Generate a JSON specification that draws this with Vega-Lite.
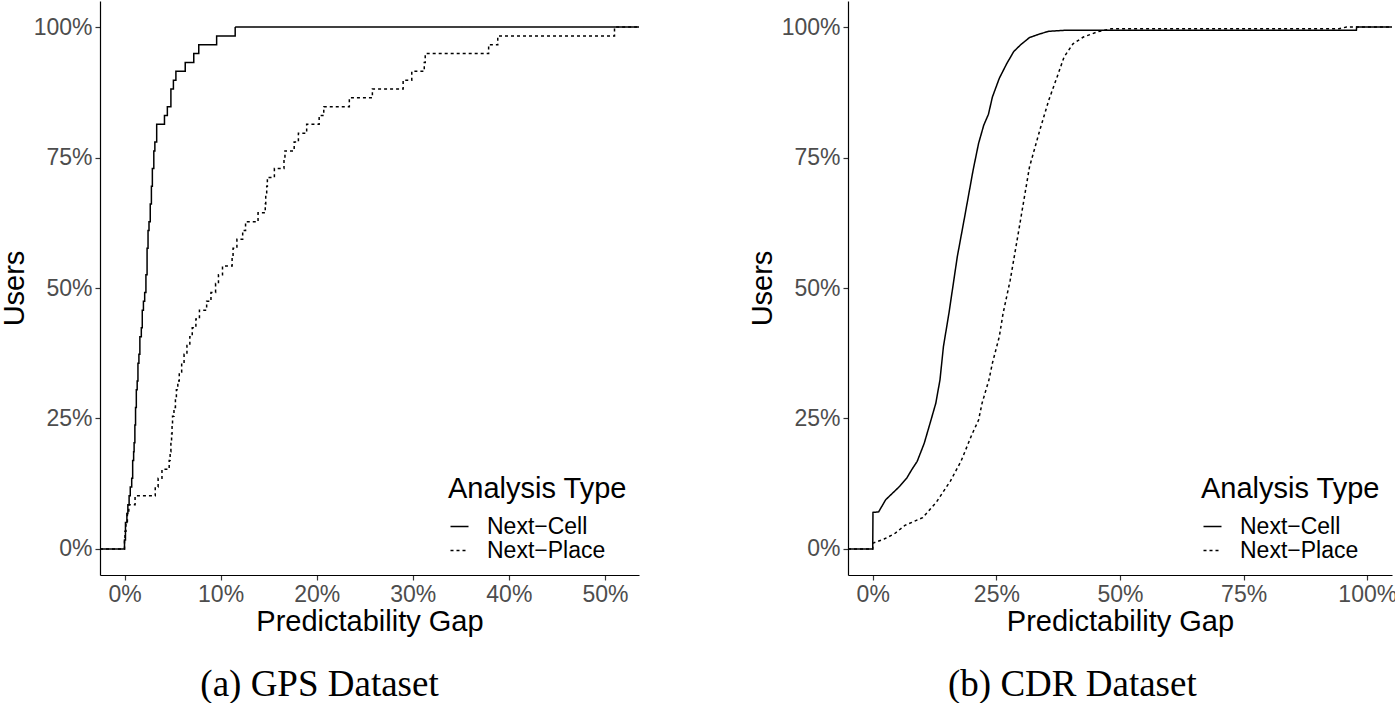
{
  "$schema": "https://vega.github.io/schema/vega-lite/v6.json",
  "padding": {"left": 0, "top": 1, "right": 0, "bottom": 0},
  "autosize": {"type": "pad"},
  "spacing": 109,
  "resolve": {"scale": {"strokeDash": "independent"}, "legend": {"strokeDash": "independent"}},
  "config": {
    "view": {"stroke": null},
    "font": "Liberation Sans",
    "axis": {"grid": false, "domainColor": "black", "domainWidth": 1.2, "tickColor": "#333333", "tickWidth": 1.2, "tickSize": 5, "labelColor": "#4D4D4D", "labelFont": "Liberation Sans", "labelFontSize": 23, "titleFont": "Liberation Sans", "titleFontSize": 29, "titleFontWeight": "normal", "titleColor": "black"},
    "axisX": {"labelPadding": 3, "titlePadding": 1},
    "axisY": {"labelPadding": 3, "titlePadding": 3, "minExtent": 68, "maxExtent": 68},
    "legend": {"orient": "bottom-right", "offset": 12, "titleFont": "Liberation Sans", "titleFontSize": 29, "titleFontWeight": "normal", "titleColor": "black", "titlePadding": 11, "labelFont": "Liberation Sans", "labelFontSize": 23, "labelColor": "black", "symbolType": "stroke", "symbolSize": 324, "symbolStrokeWidth": 1.5, "symbolStrokeColor": "black", "labelOffset": 16, "rowPadding": 0},
    "title": {"font": "Liberation Serif", "fontSize": 37, "fontWeight": "normal", "color": "black", "anchor": "middle", "frame": "bounds", "offset": 31}
  },
  "hconcat": [
    {
      "width": 539,
      "height": 574,
      "title": {"text": "(a) GPS Dataset", "orient": "bottom"},
      "data": {"values": [
        {"gap": -0.0255, "users": 0, "type": "Next−Cell"},
        {"gap": 0.0, "users": 0.0169, "type": "Next−Cell"},
        {"gap": 0.0010, "users": 0.0508, "type": "Next−Cell"},
        {"gap": 0.0025, "users": 0.0678, "type": "Next−Cell"},
        {"gap": 0.0035, "users": 0.0847, "type": "Next−Cell"},
        {"gap": 0.0048, "users": 0.1017, "type": "Next−Cell"},
        {"gap": 0.0060, "users": 0.1186, "type": "Next−Cell"},
        {"gap": 0.0075, "users": 0.1356, "type": "Next−Cell"},
        {"gap": 0.0085, "users": 0.1695, "type": "Next−Cell"},
        {"gap": 0.0095, "users": 0.1864, "type": "Next−Cell"},
        {"gap": 0.0100, "users": 0.2034, "type": "Next−Cell"},
        {"gap": 0.0108, "users": 0.2373, "type": "Next−Cell"},
        {"gap": 0.0115, "users": 0.2712, "type": "Next−Cell"},
        {"gap": 0.0123, "users": 0.3051, "type": "Next−Cell"},
        {"gap": 0.0132, "users": 0.3220, "type": "Next−Cell"},
        {"gap": 0.0140, "users": 0.3559, "type": "Next−Cell"},
        {"gap": 0.0150, "users": 0.3729, "type": "Next−Cell"},
        {"gap": 0.0160, "users": 0.4068, "type": "Next−Cell"},
        {"gap": 0.0175, "users": 0.4237, "type": "Next−Cell"},
        {"gap": 0.0185, "users": 0.4576, "type": "Next−Cell"},
        {"gap": 0.0197, "users": 0.4746, "type": "Next−Cell"},
        {"gap": 0.0210, "users": 0.4915, "type": "Next−Cell"},
        {"gap": 0.0223, "users": 0.5254, "type": "Next−Cell"},
        {"gap": 0.0235, "users": 0.5763, "type": "Next−Cell"},
        {"gap": 0.0245, "users": 0.6102, "type": "Next−Cell"},
        {"gap": 0.0255, "users": 0.6271, "type": "Next−Cell"},
        {"gap": 0.0268, "users": 0.6610, "type": "Next−Cell"},
        {"gap": 0.0280, "users": 0.6949, "type": "Next−Cell"},
        {"gap": 0.0290, "users": 0.7288, "type": "Next−Cell"},
        {"gap": 0.0305, "users": 0.7627, "type": "Next−Cell"},
        {"gap": 0.0316, "users": 0.7797, "type": "Next−Cell"},
        {"gap": 0.0335, "users": 0.8136, "type": "Next−Cell"},
        {"gap": 0.0416, "users": 0.8305, "type": "Next−Cell"},
        {"gap": 0.0446, "users": 0.8475, "type": "Next−Cell"},
        {"gap": 0.0483, "users": 0.8814, "type": "Next−Cell"},
        {"gap": 0.0509, "users": 0.8983, "type": "Next−Cell"},
        {"gap": 0.0535, "users": 0.9153, "type": "Next−Cell"},
        {"gap": 0.0632, "users": 0.9322, "type": "Next−Cell"},
        {"gap": 0.0721, "users": 0.9492, "type": "Next−Cell"},
        {"gap": 0.0773, "users": 0.9661, "type": "Next−Cell"},
        {"gap": 0.0959, "users": 0.9831, "type": "Next−Cell"},
        {"gap": 0.1152, "users": 1.0, "type": "Next−Cell"},
        {"gap": 0.5355, "users": 1.0, "type": "Next−Cell"},
        {"gap": -0.0255, "users": 0, "type": "Next−Place"},
        {"gap": 0.0, "users": 0.0169, "type": "Next−Place"},
        {"gap": 0.0005, "users": 0.0339, "type": "Next−Place"},
        {"gap": 0.0015, "users": 0.0508, "type": "Next−Place"},
        {"gap": 0.0030, "users": 0.0678, "type": "Next−Place"},
        {"gap": 0.0045, "users": 0.0847, "type": "Next−Place"},
        {"gap": 0.0110, "users": 0.1017, "type": "Next−Place"},
        {"gap": 0.0320, "users": 0.1186, "type": "Next−Place"},
        {"gap": 0.0350, "users": 0.1356, "type": "Next−Place"},
        {"gap": 0.0390, "users": 0.1525, "type": "Next−Place"},
        {"gap": 0.0465, "users": 0.1695, "type": "Next−Place"},
        {"gap": 0.0475, "users": 0.1864, "type": "Next−Place"},
        {"gap": 0.0483, "users": 0.2034, "type": "Next−Place"},
        {"gap": 0.0490, "users": 0.2203, "type": "Next−Place"},
        {"gap": 0.0495, "users": 0.2373, "type": "Next−Place"},
        {"gap": 0.0500, "users": 0.2542, "type": "Next−Place"},
        {"gap": 0.0515, "users": 0.2712, "type": "Next−Place"},
        {"gap": 0.0530, "users": 0.2881, "type": "Next−Place"},
        {"gap": 0.0540, "users": 0.3051, "type": "Next−Place"},
        {"gap": 0.0555, "users": 0.3220, "type": "Next−Place"},
        {"gap": 0.0570, "users": 0.3390, "type": "Next−Place"},
        {"gap": 0.0595, "users": 0.3559, "type": "Next−Place"},
        {"gap": 0.0620, "users": 0.3729, "type": "Next−Place"},
        {"gap": 0.0650, "users": 0.3898, "type": "Next−Place"},
        {"gap": 0.0680, "users": 0.4068, "type": "Next−Place"},
        {"gap": 0.0705, "users": 0.4237, "type": "Next−Place"},
        {"gap": 0.0743, "users": 0.4407, "type": "Next−Place"},
        {"gap": 0.0780, "users": 0.4576, "type": "Next−Place"},
        {"gap": 0.0855, "users": 0.4746, "type": "Next−Place"},
        {"gap": 0.0900, "users": 0.4915, "type": "Next−Place"},
        {"gap": 0.0948, "users": 0.5085, "type": "Next−Place"},
        {"gap": 0.0978, "users": 0.5254, "type": "Next−Place"},
        {"gap": 0.1020, "users": 0.5424, "type": "Next−Place"},
        {"gap": 0.1120, "users": 0.5593, "type": "Next−Place"},
        {"gap": 0.1130, "users": 0.5763, "type": "Next−Place"},
        {"gap": 0.1170, "users": 0.5932, "type": "Next−Place"},
        {"gap": 0.1230, "users": 0.6102, "type": "Next−Place"},
        {"gap": 0.1260, "users": 0.6271, "type": "Next−Place"},
        {"gap": 0.1390, "users": 0.6441, "type": "Next−Place"},
        {"gap": 0.1465, "users": 0.6610, "type": "Next−Place"},
        {"gap": 0.1470, "users": 0.6780, "type": "Next−Place"},
        {"gap": 0.1480, "users": 0.6949, "type": "Next−Place"},
        {"gap": 0.1487, "users": 0.7119, "type": "Next−Place"},
        {"gap": 0.1560, "users": 0.7288, "type": "Next−Place"},
        {"gap": 0.1660, "users": 0.7458, "type": "Next−Place"},
        {"gap": 0.1670, "users": 0.7627, "type": "Next−Place"},
        {"gap": 0.1766, "users": 0.7797, "type": "Next−Place"},
        {"gap": 0.1810, "users": 0.7966, "type": "Next−Place"},
        {"gap": 0.1896, "users": 0.8136, "type": "Next−Place"},
        {"gap": 0.2026, "users": 0.8305, "type": "Next−Place"},
        {"gap": 0.2074, "users": 0.8475, "type": "Next−Place"},
        {"gap": 0.2340, "users": 0.8644, "type": "Next−Place"},
        {"gap": 0.2580, "users": 0.8814, "type": "Next−Place"},
        {"gap": 0.2900, "users": 0.8983, "type": "Next−Place"},
        {"gap": 0.2990, "users": 0.9153, "type": "Next−Place"},
        {"gap": 0.3120, "users": 0.9322, "type": "Next−Place"},
        {"gap": 0.3130, "users": 0.9492, "type": "Next−Place"},
        {"gap": 0.3790, "users": 0.9661, "type": "Next−Place"},
        {"gap": 0.3885, "users": 0.9831, "type": "Next−Place"},
        {"gap": 0.5100, "users": 1.0, "type": "Next−Place"},
        {"gap": 0.5355, "users": 1.0, "type": "Next−Place"}
      ]},
      "mark": {"type": "line", "interpolate": "step-after", "color": "black", "strokeWidth": 1.5, "clip": true},
      "encoding": {
        "x": {"field": "gap", "type": "quantitative", "scale": {"domain": [-0.0255, 0.5355], "nice": false, "zero": false}, "axis": {"values": [0, 0.1, 0.2, 0.3, 0.4, 0.5], "format": ".0%", "title": "Predictability Gap"}},
        "y": {"field": "users", "type": "quantitative", "scale": {"domain": [-0.05, 1.05], "nice": false, "zero": false}, "axis": {"values": [0, 0.25, 0.5, 0.75, 1], "format": ".0%", "title": "Users"}},
        "strokeDash": {"field": "type", "type": "nominal", "scale": {"domain": ["Next−Cell", "Next−Place"], "range": [[1, 0], [3, 3]]}, "legend": {"title": "Analysis Type"}}
      }
    },
    {
      "width": 544,
      "height": 574,
      "title": {"text": "(b) CDR Dataset", "orient": "bottom"},
      "data": {"values": [
        {"gap": -0.05, "users": 0, "type": "Next−Cell"},
        {"gap": 0.0, "users": 0, "type": "Next−Cell"},
        {"gap": 0.0005, "users": 0.070, "type": "Next−Cell"},
        {"gap": 0.012, "users": 0.071, "type": "Next−Cell"},
        {"gap": 0.026, "users": 0.094, "type": "Next−Cell"},
        {"gap": 0.037, "users": 0.104, "type": "Next−Cell"},
        {"gap": 0.0545, "users": 0.120, "type": "Next−Cell"},
        {"gap": 0.069, "users": 0.136, "type": "Next−Cell"},
        {"gap": 0.079, "users": 0.152, "type": "Next−Cell"},
        {"gap": 0.090, "users": 0.168, "type": "Next−Cell"},
        {"gap": 0.104, "users": 0.202, "type": "Next−Cell"},
        {"gap": 0.116, "users": 0.241, "type": "Next−Cell"},
        {"gap": 0.1275, "users": 0.279, "type": "Next−Cell"},
        {"gap": 0.136, "users": 0.324, "type": "Next−Cell"},
        {"gap": 0.143, "users": 0.388, "type": "Next−Cell"},
        {"gap": 0.154, "users": 0.451, "type": "Next−Cell"},
        {"gap": 0.164, "users": 0.515, "type": "Next−Cell"},
        {"gap": 0.171, "users": 0.560, "type": "Next−Cell"},
        {"gap": 0.186, "users": 0.637, "type": "Next−Cell"},
        {"gap": 0.203, "users": 0.726, "type": "Next−Cell"},
        {"gap": 0.214, "users": 0.777, "type": "Next−Cell"},
        {"gap": 0.2245, "users": 0.812, "type": "Next−Cell"},
        {"gap": 0.234, "users": 0.833, "type": "Next−Cell"},
        {"gap": 0.242, "users": 0.866, "type": "Next−Cell"},
        {"gap": 0.256, "users": 0.902, "type": "Next−Cell"},
        {"gap": 0.271, "users": 0.930, "type": "Next−Cell"},
        {"gap": 0.285, "users": 0.953, "type": "Next−Cell"},
        {"gap": 0.299, "users": 0.966, "type": "Next−Cell"},
        {"gap": 0.317, "users": 0.980, "type": "Next−Cell"},
        {"gap": 0.338, "users": 0.987, "type": "Next−Cell"},
        {"gap": 0.356, "users": 0.992, "type": "Next−Cell"},
        {"gap": 0.391, "users": 0.994, "type": "Next−Cell"},
        {"gap": 0.978, "users": 0.994, "type": "Next−Cell"},
        {"gap": 0.9785, "users": 1.0, "type": "Next−Cell"},
        {"gap": 1.05, "users": 1.0, "type": "Next−Cell"},
        {"gap": -0.05, "users": 0, "type": "Next−Place"},
        {"gap": 0.0, "users": 0, "type": "Next−Place"},
        {"gap": 0.0005, "users": 0.011, "type": "Next−Place"},
        {"gap": 0.023, "users": 0.019, "type": "Next−Place"},
        {"gap": 0.044, "users": 0.029, "type": "Next−Place"},
        {"gap": 0.065, "users": 0.045, "type": "Next−Place"},
        {"gap": 0.101, "users": 0.060, "type": "Next−Place"},
        {"gap": 0.129, "users": 0.090, "type": "Next−Place"},
        {"gap": 0.157, "users": 0.130, "type": "Next−Place"},
        {"gap": 0.1785, "users": 0.168, "type": "Next−Place"},
        {"gap": 0.200, "users": 0.218, "type": "Next−Place"},
        {"gap": 0.214, "users": 0.247, "type": "Next−Place"},
        {"gap": 0.221, "users": 0.279, "type": "Next−Place"},
        {"gap": 0.235, "users": 0.324, "type": "Next−Place"},
        {"gap": 0.242, "users": 0.356, "type": "Next−Place"},
        {"gap": 0.256, "users": 0.407, "type": "Next−Place"},
        {"gap": 0.2635, "users": 0.451, "type": "Next−Place"},
        {"gap": 0.278, "users": 0.515, "type": "Next−Place"},
        {"gap": 0.292, "users": 0.592, "type": "Next−Place"},
        {"gap": 0.317, "users": 0.732, "type": "Next−Place"},
        {"gap": 0.338, "users": 0.803, "type": "Next−Place"},
        {"gap": 0.356, "users": 0.860, "type": "Next−Place"},
        {"gap": 0.373, "users": 0.905, "type": "Next−Place"},
        {"gap": 0.387, "users": 0.943, "type": "Next−Place"},
        {"gap": 0.405, "users": 0.968, "type": "Next−Place"},
        {"gap": 0.426, "users": 0.981, "type": "Next−Place"},
        {"gap": 0.455, "users": 0.991, "type": "Next−Place"},
        {"gap": 0.483, "users": 0.997, "type": "Next−Place"},
        {"gap": 0.943, "users": 0.997, "type": "Next−Place"},
        {"gap": 0.958, "users": 1.0, "type": "Next−Place"},
        {"gap": 1.05, "users": 1.0, "type": "Next−Place"}
      ]},
      "mark": {"type": "line", "interpolate": "linear", "color": "black", "strokeWidth": 1.5, "clip": true},
      "encoding": {
        "x": {"field": "gap", "type": "quantitative", "scale": {"domain": [-0.05, 1.05], "nice": false, "zero": false}, "axis": {"values": [0, 0.25, 0.5, 0.75, 1], "format": ".0%", "title": "Predictability Gap"}},
        "y": {"field": "users", "type": "quantitative", "scale": {"domain": [-0.05, 1.05], "nice": false, "zero": false}, "axis": {"values": [0, 0.25, 0.5, 0.75, 1], "format": ".0%", "title": "Users"}},
        "strokeDash": {"field": "type", "type": "nominal", "scale": {"domain": ["Next−Cell", "Next−Place"], "range": [[1, 0], [3, 3]]}, "legend": {"title": "Analysis Type"}}
      }
    }
  ]
}
